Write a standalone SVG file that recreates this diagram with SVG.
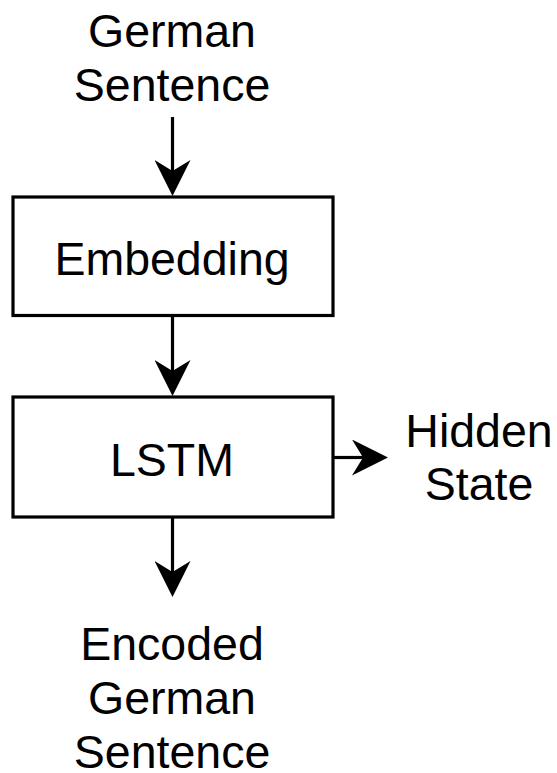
<svg xmlns="http://www.w3.org/2000/svg" width="557" height="773" viewBox="0 0 557 773">
  <style>
    .box { fill: #ffffff; stroke: #000000; stroke-width: 3.2; }
    .lbl { font-family: "Liberation Sans", Arial, sans-serif; font-size: 46.5px; fill: #000000; text-anchor: middle; }
    .edge { stroke: #000000; stroke-width: 3.2; fill: none; }
  </style>
  <defs>
    <marker id="arrow" markerUnits="userSpaceOnUse" viewBox="0 0 36 36" markerWidth="36" markerHeight="36" refX="11" refY="18" orient="auto">
      <path d="M0,0 L36,18 L0,36 L11,18 Z" fill="#000000"/>
    </marker>
  </defs>
  <rect width="557" height="773" fill="#ffffff"/>

  <g id="input-label">
    <text class="lbl" x="172" y="47">German</text>
    <text class="lbl" x="172" y="100.5">Sentence</text>
  </g>

  <g id="embedding">
    <rect class="box" x="13" y="197" width="320" height="118.5"/>
    <text class="lbl" x="172" y="275">Embedding</text>
  </g>

  <g id="lstm">
    <rect class="box" x="13" y="397" width="320" height="120"/>
    <text class="lbl" x="172" y="476">LSTM</text>
  </g>

  <g id="hidden-state">
    <text class="lbl" x="479" y="446.5">Hidden</text>
    <text class="lbl" x="479" y="500">State</text>
  </g>

  <g id="output-label">
    <text class="lbl" x="172" y="660">Encoded</text>
    <text class="lbl" x="172" y="714">German</text>
    <text class="lbl" x="172" y="768">Sentence</text>
  </g>

  <g id="connectors">
    <line class="edge" x1="172.5" y1="117" x2="172.5" y2="171" marker-end="url(#arrow)"/>
    <line class="edge" x1="172.5" y1="316" x2="172.5" y2="371" marker-end="url(#arrow)"/>
    <line class="edge" x1="172.5" y1="517" x2="172.5" y2="572" marker-end="url(#arrow)"/>
    <line class="edge" x1="333" y1="457.5" x2="363" y2="457.5" marker-end="url(#arrow)"/>
  </g>
</svg>
